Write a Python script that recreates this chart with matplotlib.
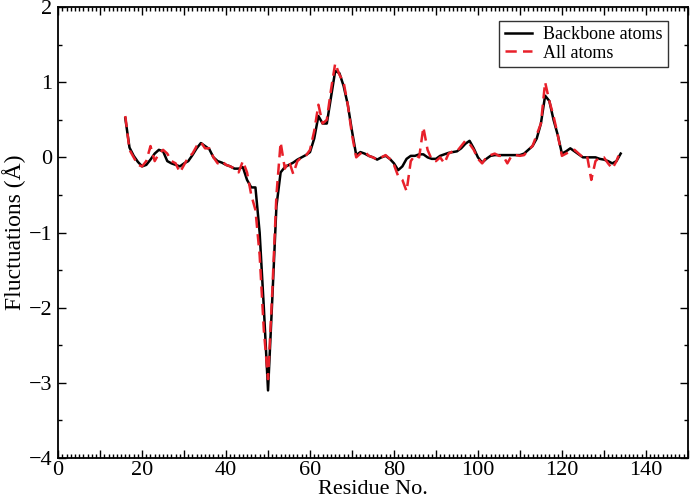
import numpy as np
import matplotlib
matplotlib.use("Agg")
import matplotlib.pyplot as plt
from matplotlib.ticker import MultipleLocator, FuncFormatter

# --------------------------
# Daten
# --------------------------
residues = np.arange(16, 135)

backbone = [
    0.52, 0.13, 0.02, -0.06, -0.12, -0.10, -0.03, 0.05, 0.10, 0.08,      # 16-25
    -0.05, -0.08, -0.10, -0.12, -0.08, -0.05, 0.03, 0.12, 0.19, 0.15,    # 26-35
    0.11, 0.00, -0.05, -0.07, -0.10, -0.12, -0.15, -0.15, -0.13, -0.30,  # 36-45
    -0.40, -0.40, -1.00, -2.00, -3.10, -1.90, -0.65, -0.20, -0.13, -0.10,  # 46-55
    -0.07, -0.03, 0.00, 0.03, 0.07, 0.25, 0.55, 0.45, 0.45, 0.80,        # 56-65
    1.15, 1.12, 0.95, 0.70, 0.35, 0.03, 0.07, 0.05, 0.02, 0.00,          # 66-75
    -0.03, 0.00, 0.02, -0.02, -0.08, -0.17, -0.12, -0.02, 0.02, 0.02,    # 76-85
    0.04, 0.04, 0.00, -0.02, -0.02, 0.02, 0.04, 0.06, 0.07, 0.08,        # 86-95
    0.12, 0.18, 0.22, 0.12, 0.00, -0.07, -0.02, 0.02, 0.03, 0.03,        # 96-105
    0.03, 0.03, 0.03, 0.03, 0.03, 0.05, 0.10, 0.15, 0.25, 0.45,          # 106-115
    0.82, 0.75, 0.50, 0.30, 0.05, 0.08, 0.12, 0.08, 0.04, 0.00,          # 116-125
    0.00, 0.00, 0.00, -0.02, -0.03, -0.05, -0.08, -0.05, 0.05,           # 126-134
]

all_atoms = [
    0.55, 0.10, 0.00, -0.10, -0.12, -0.05, 0.15, -0.05, 0.05, 0.10,      # 16-25
    0.05, -0.05, -0.08, -0.20, -0.10, 0.00, 0.05, 0.15, 0.20, 0.12,      # 26-35
    0.12, 0.00, -0.08, -0.05, -0.10, -0.12, -0.15, -0.20, -0.05, -0.20,  # 36-45
    -0.50, -0.70, -1.30, -2.30, -2.95, -1.80, -0.50, 0.20, -0.15, -0.05,  # 46-55
    -0.22, -0.05, 0.00, 0.02, 0.10, 0.35, 0.70, 0.45, 0.50, 0.90,        # 56-65
    1.25, 1.10, 1.00, 0.70, 0.30, 0.00, 0.05, 0.08, 0.02, 0.00,          # 66-75
    -0.03, 0.00, 0.03, -0.02, -0.10, -0.25, -0.30, -0.45, -0.05, 0.03,   # 76-85
    0.00, 0.40, 0.10, -0.03, -0.05, 0.00, -0.08, 0.05, 0.08, 0.08,       # 86-95
    0.15, 0.22, 0.18, 0.10, -0.02, -0.08, 0.00, 0.03, 0.05, 0.02,        # 96-105
    0.02, -0.08, 0.02, 0.03, 0.02, 0.03, 0.10, 0.15, 0.30, 0.45,         # 106-115
    1.00, 0.75, 0.55, 0.30, 0.02, 0.05, 0.08, 0.10, 0.05, 0.00,          # 116-125
    0.02, -0.30, -0.05, 0.00, 0.00, -0.08, -0.15, -0.05, 0.10,           # 126-134
]

# --------------------------
# Plot
# --------------------------
plt.rcParams["font.family"] = ["Liberation Serif", "DejaVu Serif"]

fig = plt.figure(figsize=(6.92, 4.99), dpi=100)
ax = fig.add_axes([0.084, 0.082, 0.910, 0.904])

ax.plot(residues, backbone, color="black", linewidth=1.8, label="Backbone atoms")
ax.plot(residues, all_atoms, color="#e8202a", linewidth=1.8,
        dashes=(4.5, 2.5), label="All atoms")

ax.set_xlim(0, 150)
ax.set_ylim(-4, 2)

ax.xaxis.set_major_locator(MultipleLocator(10))
ax.xaxis.set_minor_locator(MultipleLocator(1))
ax.xaxis.set_major_formatter(FuncFormatter(lambda v, p: f"{int(v)}" if int(round(v)) % 20 == 0 else ""))
ax.yaxis.set_major_locator(MultipleLocator(1))
ax.yaxis.set_minor_locator(MultipleLocator(0.5))
ax.yaxis.set_major_formatter(FuncFormatter(lambda v, p: f"{int(v)}".replace("-", "\u2212")))

ax.tick_params(which="both", direction="in", top=True, right=True, width=1.0)
ax.tick_params(which="major", length=6, labelsize=16)
ax.tick_params(which="minor", length=3)
ax.tick_params(axis="x", pad=2)
ax.tick_params(axis="y", pad=4)
for s in ax.spines.values():
    s.set_linewidth(1.3)

ax.set_xlabel("Residue No.", fontsize=16, labelpad=0)
ax.set_ylabel("Fluctuations (Å)", fontsize=17, labelpad=2)

leg = ax.legend(loc="upper right", bbox_to_anchor=(0.968, 0.97), fontsize=13,
                frameon=True, fancybox=False, edgecolor="black",
                handlelength=1.5, borderpad=0.3, labelspacing=0.1,
                handletextpad=0.6, borderaxespad=0)
leg.get_frame().set_linewidth(1.0)

fig.savefig("out.png", dpi=100)
